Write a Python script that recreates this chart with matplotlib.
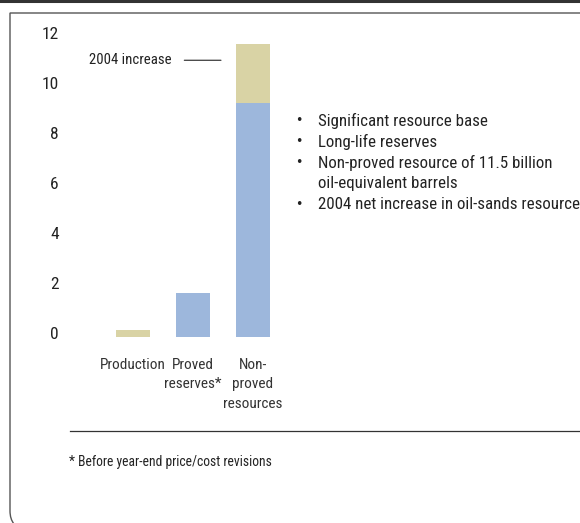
import matplotlib
matplotlib.use("Agg")
import matplotlib.pyplot as plt
from matplotlib.lines import Line2D
from matplotlib.path import Path
from matplotlib.patches import PathPatch
from matplotlib.transforms import ScaledTranslation

plt.rcParams['font.family'] = ['Roboto Condensed', 'DejaVu Sans']

categories = ["Production", "Proved\nreserves*", "Non-\nproved\nresources"]
base_values = [0.28, 1.76, 9.36]       # blue part (production drawn khaki)
increase_2004 = [0.0, 0.0, 2.36]       # 2004 increase, khaki on top
y_ticks = [0, 2, 4, 6, 8, 10, 12]
bullets = [
    "Significant resource base",
    "Long-life reserves",
    "Non-proved resource of 11.5 billion\noil-equivalent barrels",
    "2004 net increase in oil-sands resource",
]
footnote = "* Before year-end price/cost revisions"

khaki = "#d9d3a5"
blue = "#9db7dc"
txt = "#222222"

W, H = 580, 523
fig = plt.figure(figsize=(W / 100, H / 100), dpi=100)

# axes placed in pixel terms
ax_left, ax_right, ax_top, ax_bottom = 70, 580, 20, 337
ax = fig.add_axes([ax_left / W, 1 - ax_bottom / H,
                   (ax_right - ax_left) / W, (ax_bottom - ax_top) / H])
px_x = 60.0
px_y = 25.0
ax.set_xlim(-(133 - ax_left) / px_x, (ax_right - 133) / px_x)
ax.set_ylim(0, (ax_bottom - ax_top) / px_y)

x = range(len(categories))
base_colors = [khaki, blue, blue]
width = 0.567
ax.bar(x, base_values, width=width, color=base_colors, linewidth=0)
ax.bar(x, increase_2004, bottom=base_values, width=width, color=khaki, linewidth=0)

ax.set_yticks(y_ticks)
ax.set_yticklabels([str(t) for t in y_ticks], fontsize=12.5, color=txt)
ax.set_xticks(list(x))
ax.set_xticklabels(categories, fontsize=11, color="#333333", linespacing=1.5, va="top")
ax.tick_params(axis="y", length=0, pad=8)
ax.tick_params(axis="x", length=0, pad=15)
shift = ScaledTranslation(0, 4 / 100, fig.dpi_scale_trans)
for lab in ax.get_yticklabels():
    lab.set_transform(lab.get_transform() + shift)
for s in ax.spines.values():
    s.set_visible(False)

# 2004 increase label
top_nonproved = base_values[2] + increase_2004[2]
ax.annotate("2004 increase", xy=(2 - width / 2 - 0.25, top_nonproved - 0.65),
            xytext=(2 - width / 2 - 1.07, top_nonproved - 0.65),
            fontsize=10.6, color=txt, va="center", ha="right",
            arrowprops=dict(arrowstyle="-", color=txt, lw=0.8, shrinkA=7, shrinkB=0))

# bullet list
by = 121
for b in bullets:
    fig.text(295 / W, 1 - by / H, "\u2022", fontsize=9, color=txt, va="center",
             family=["DejaVu Sans"])
    for ln in b.split("\n"):
        fig.text(318 / W, 1 - by / H, ln, fontsize=12.2, color=txt, va="center")
        by += 20.8

# separator and footnote
fig.add_artist(Line2D([70 / W, 1], [1 - 431 / H, 1 - 431 / H], color="#333333", lw=0.9))
fig.text(69 / W, 1 - 462 / H, footnote, fontsize=9.8, color=txt, va="center")

# outer frame
fig.add_artist(Line2D([0, 1], [1 - 1.2 / H, 1 - 1.2 / H], color="#333333", lw=2.2))
verts = [(1.05, 1 - 13 / H), (10 / W, 1 - 13 / H), (10 / W, 1 - 511 / H),
         (10 / W, 1 - 519 / H), (14 / W, 1 - 524 / H)]
codes = [Path.MOVETO, Path.LINETO, Path.LINETO, Path.CURVE3, Path.CURVE3]
fig.add_artist(PathPatch(Path(verts, codes), transform=fig.transFigure,
                         fill=False, edgecolor="#555555", lw=1.0))

fig.savefig("out.png", dpi=100, facecolor="white")
